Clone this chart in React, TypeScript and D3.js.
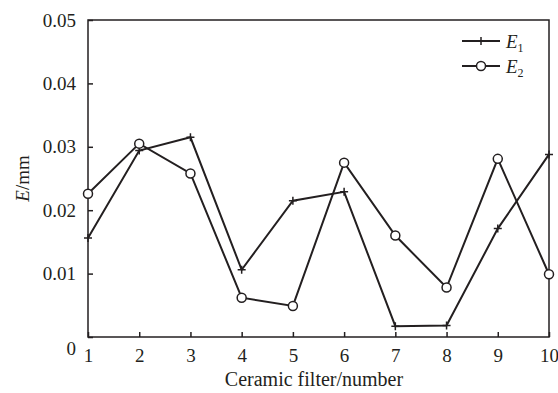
import React, { useEffect, useRef } from 'react';
import * as d3 from 'd3';

const filters = [1, 2, 3, 4, 5, 6, 7, 8, 9, 10];
const e1 = [0.0156, 0.0294, 0.0315, 0.0106, 0.0215, 0.0229, 0.0017, 0.0018, 0.0171, 0.0288];
const e2 = [0.0226, 0.0305, 0.0258, 0.0062, 0.0049, 0.0275, 0.016, 0.0078, 0.0281, 0.0099];
const yTicks = [0, 0.01, 0.02, 0.03, 0.04, 0.05];

const App = () => {
  const ref = useRef<SVGSVGElement | null>(null);

  useEffect(() => {
    const width = 558;
    const height = 393;
    const margin = { top: 20, right: 9, bottom: 56, left: 88 };
    const font = '"Liberation Serif", "Times New Roman", serif';
    const ink = '#231f20';

    const svg = d3.select(ref.current);
    svg.selectAll('*').remove();

    const x = d3.scaleLinear().domain([1, 10]).range([margin.left, width - margin.right]);
    const y = d3.scaleLinear().domain([0, 0.05]).range([height - margin.bottom, margin.top]);

    // frame
    svg.append('rect')
      .attr('x', margin.left)
      .attr('y', margin.top)
      .attr('width', x(10) - x(1))
      .attr('height', y(0) - y(0.05))
      .attr('fill', 'none')
      .attr('stroke', ink)
      .attr('stroke-width', 1.5);

    const xAxis = svg.append('g')
      .attr('transform', `translate(0,${y(0)})`)
      .call(d3.axisBottom(x).tickValues(filters).tickSize(-5).tickPadding(12).tickFormat(d3.format('d')));
    const yAxis = svg.append('g')
      .attr('transform', `translate(${margin.left},0)`)
      .call(d3.axisLeft(y).tickValues(yTicks).tickSize(-5).tickPadding(12)
        .tickFormat(d => (d === 0 ? '0' : d3.format('.2f')(d as number))));

    [xAxis, yAxis].forEach(g => {
      g.attr('font-family', null).attr('font-size', null);
      g.select('.domain').remove();
      g.selectAll('line').attr('stroke', ink).attr('stroke-width', 1.5);
      g.selectAll('text').style('font-family', font).style('font-size', '19px').attr('fill', ink);
    });
    xAxis.selectAll('text').attr('dy', '0.71em');
    yAxis.selectAll('.tick').filter(d => d === 0).select('text').attr('dy', '0.9em');

    const line = d3.line<number>().x((_, i) => x(filters[i])).y(d => y(d));

    svg.append('path').datum(e1).attr('d', line).attr('fill', 'none')
      .attr('stroke', ink).attr('stroke-width', 2);
    svg.append('path').datum(e2).attr('d', line).attr('fill', 'none')
      .attr('stroke', ink).attr('stroke-width', 2);

    svg.selectAll('.p1').data(e1).enter().append('path')
      .attr('transform', (d, i) => `translate(${x(filters[i])},${y(d)})`)
      .attr('d', 'M-4,0H4M0,-4V4')
      .attr('stroke', ink).attr('stroke-width', 1.5).attr('fill', 'none');

    svg.selectAll('.p2').data(e2).enter().append('circle')
      .attr('cx', (d, i) => x(filters[i]))
      .attr('cy', d => y(d))
      .attr('r', 4.5)
      .attr('fill', '#fff')
      .attr('stroke', ink)
      .attr('stroke-width', 1.5);

    // legend
    const lg = svg.append('g').style('font-family', font).attr('fill', ink);
    [{ name: '1', y: 41, m: 'plus' }, { name: '2', y: 66, m: 'circle' }].forEach(item => {
      lg.append('line').attr('x1', 462).attr('x2', 500).attr('y1', item.y).attr('y2', item.y)
        .attr('stroke', ink).attr('stroke-width', 2);
      if (item.m === 'plus') {
        lg.append('path').attr('d', `M481,${item.y - 4}V${item.y + 4}`).attr('stroke', ink).attr('stroke-width', 1.5);
      } else {
        lg.append('circle').attr('cx', 481).attr('cy', item.y).attr('r', 4.5)
          .attr('fill', '#fff').attr('stroke', ink).attr('stroke-width', 1.5);
      }
      const t = lg.append('text').attr('x', 506).attr('y', item.y + 7).style('font-size', '19px');
      t.append('tspan').attr('font-style', 'italic').text('E');
      t.append('tspan').style('font-size', '12px').attr('dy', 4).text(item.name);
    });

    svg.append('text')
      .attr('x', 314)
      .attr('y', 386)
      .attr('text-anchor', 'middle')
      .style('font-family', font)
      .style('font-size', '20px')
      .attr('fill', ink)
      .text('Ceramic filter/number');

    const yl = svg.append('text')
      .attr('transform', `translate(29,${(y(0) + y(0.05)) / 2}) rotate(-90)`)
      .attr('text-anchor', 'middle')
      .style('font-family', font)
      .style('font-size', '19px')
      .attr('fill', ink);
    yl.append('tspan').attr('font-style', 'italic').text('E');
    yl.append('tspan').text('/mm');
  }, []);

  return (
    <svg ref={ref} width={558} height={393}
      style={{ position: 'absolute', left: 0, top: 0, background: '#fff' }} />
  );
};

export default App;
